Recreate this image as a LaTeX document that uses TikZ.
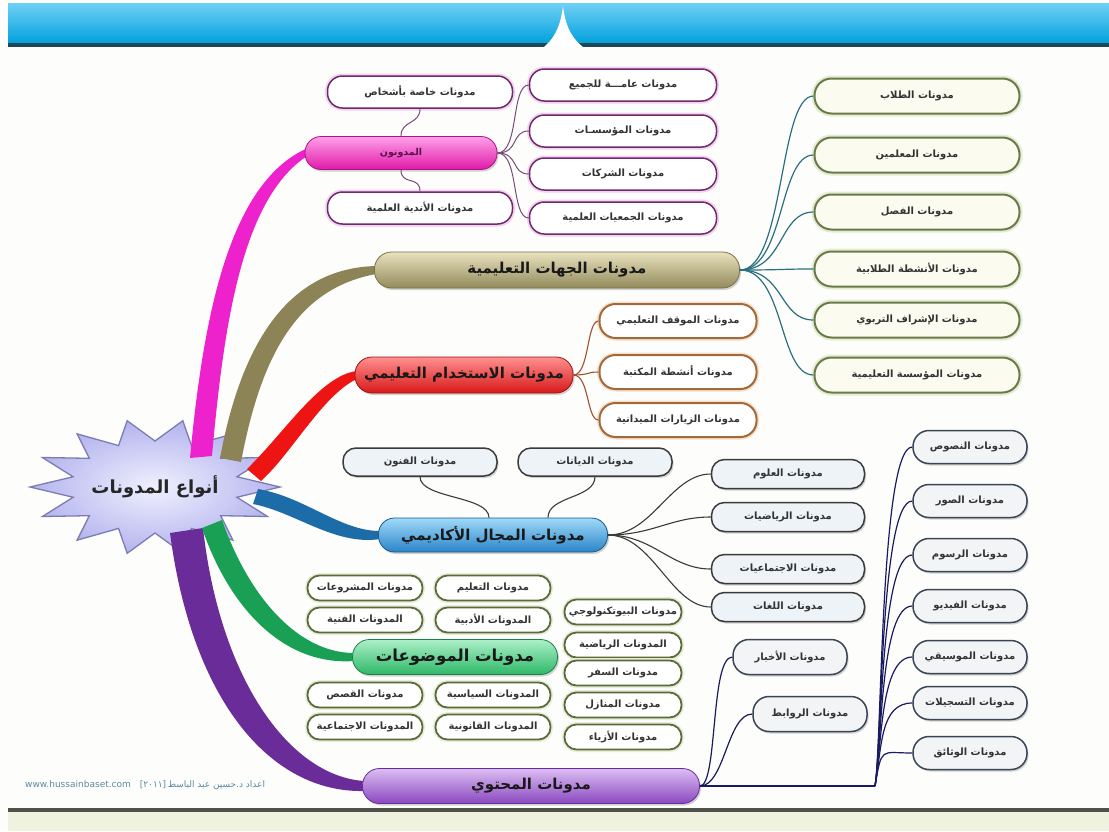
\documentclass[tikz,border=0pt]{standalone}
\usepackage{fontspec}
\setmainfont{DejaVu Sans}
\newfontfamily\arfont[Script=Arabic]{DejaVu Sans}
\TeXXeTstate=1
\usetikzlibrary{shadows,calc,backgrounds}
\newcommand\artx[1]{{\arfont\beginR #1\endR}}
\newcommand\kidar{\arfont\bfseries\fontsize{10}{12}\selectfont}
\newcommand\bigar{\arfont\bfseries\fontsize{15}{18}\selectfont}
\newcommand\midar{\arfont\bfseries\fontsize{9.5}{11}\selectfont}
\newcommand\rootar{\arfont\bfseries\fontsize{18}{21}\selectfont}
\definecolor{barA}{HTML}{6FD0F5}
\definecolor{barB}{HTML}{00A0DC}
\definecolor{barLine}{HTML}{1E4756}
\definecolor{botLine}{HTML}{4E5248}
\definecolor{botStrip}{HTML}{EEF2DE}
\definecolor{pageBg}{HTML}{FDFDFB}
\definecolor{starIn}{HTML}{F0F0FF}
\definecolor{starOut}{HTML}{B4B4EE}
\definecolor{starLine}{HTML}{7C7CB4}
\definecolor{ribM}{HTML}{EE22CC}
\definecolor{ribO}{HTML}{8C8456}
\definecolor{ribR}{HTML}{EE1414}
\definecolor{ribB}{HTML}{1C6CA8}
\definecolor{ribG}{HTML}{1AA055}
\definecolor{ribP}{HTML}{6A2C98}
\definecolor{mTop}{HTML}{FFA0E8}
\definecolor{mBot}{HTML}{E01AA8}
\definecolor{mDr}{HTML}{B0108A}
\definecolor{mTxt}{HTML}{5A1050}
\definecolor{oTop}{HTML}{E8E2BE}
\definecolor{oBot}{HTML}{938A5C}
\definecolor{oDr}{HTML}{7A7048}
\definecolor{rTop}{HTML}{FF9090}
\definecolor{rBot}{HTML}{D81818}
\definecolor{rDr}{HTML}{A01010}
\definecolor{bTop}{HTML}{A0DAF8}
\definecolor{bBot}{HTML}{2A84C8}
\definecolor{bDr}{HTML}{1A5A90}
\definecolor{gTop}{HTML}{ACF0C8}
\definecolor{gBot}{HTML}{2EB868}
\definecolor{gDr}{HTML}{1A8048}
\definecolor{pTop}{HTML}{DCBEF2}
\definecolor{pBot}{HTML}{8A48C0}
\definecolor{pDr}{HTML}{6A2C98}
\definecolor{kMl}{HTML}{6E2A6A}
\definecolor{kMh}{HTML}{F3D2F0}
\definecolor{kOl}{HTML}{6A7A4A}
\definecolor{kOh}{HTML}{E4ECD4}
\definecolor{kOf}{HTML}{FBFBF0}
\definecolor{kRl}{HTML}{A06A3A}
\definecolor{kRh}{HTML}{F6DECA}
\definecolor{kBl}{HTML}{3A3A3A}
\definecolor{kBf}{HTML}{EEF3F7}
\definecolor{kGl}{HTML}{5A6A3A}
\definecolor{kGh}{HTML}{E6EED8}
\definecolor{kPl}{HTML}{3A4656}
\definecolor{kPf}{HTML}{F2F4F6}
\definecolor{cM}{HTML}{7A4A7A}
\definecolor{cO}{HTML}{2A7080}
\definecolor{cR}{HTML}{A05030}
\definecolor{cB}{HTML}{3A3A3A}
\definecolor{cP}{HTML}{1A1A60}
\definecolor{footCol}{HTML}{5A8AA0}
\begin{document}
\begin{tikzpicture}[x=1pt,y=-1pt,
  shd/.style={drop shadow={opacity=0.35, shadow xshift=1.5pt, shadow yshift=-2pt}},
  mainnode/.style={inner sep=0pt, line width=0.8pt, shd, text=black!90, font=\bigar},
  mainM/.style={mainnode, top color=mTop, bottom color=mBot, draw=mDr, minimum height=33pt, rounded corners=16pt, font=\midar, text=mTxt},
  mainO/.style={mainnode, top color=oTop, bottom color=oBot, draw=oDr, minimum height=36pt, rounded corners=17pt},
  mainR/.style={mainnode, top color=rTop, bottom color=rBot, draw=rDr, minimum height=36pt, rounded corners=17pt},
  mainB/.style={mainnode, top color=bTop, bottom color=bBot, draw=bDr, minimum height=34pt, rounded corners=16pt},
  mainG/.style={mainnode, top color=gTop, bottom color=gBot, draw=gDr, minimum height=35pt, rounded corners=17pt, font=\arfont\bfseries\fontsize{16.5}{19}\selectfont},
  mainP/.style={mainnode, top color=pTop, bottom color=pBot, draw=pDr, minimum height=35pt, rounded corners=17pt},
  kid/.style={inner sep=0pt, line width=1.5pt, font=\kidar, text=black!80, shd},
  kidM/.style={kid, draw=kMl, fill=white, minimum width=185pt, minimum height=32pt, rounded corners=15pt, preaction={draw=kMh, line width=5pt}},
  kidO/.style={kid, draw=kOl, fill=kOf, minimum width=205pt, minimum height=35pt, rounded corners=17pt, line width=2pt, preaction={draw=kOh, line width=6pt}},
  kidR/.style={kid, draw=kRl, fill=white, minimum width=157pt, minimum height=34pt, rounded corners=16pt, line width=2pt, preaction={draw=kRh, line width=5pt}},
  kidB/.style={kid, draw=kBl, fill=kBf, minimum width=154pt, minimum height=28pt, rounded corners=13pt},
  kidG/.style={kid, draw=kGl, fill=white, minimum width=115pt, minimum height=25pt, rounded corners=12pt, line width=1.8pt, preaction={draw=kGh, line width=5pt}},
  kidP/.style={kid, draw=kPl, fill=kPf, minimum width=114pt, minimum height=33pt, rounded corners=16pt},
  conM/.style={draw=cM, line width=1pt},
  conO/.style={draw=cO, line width=1.2pt},
  conR/.style={draw=cR, line width=1.1pt},
  conB/.style={draw=cB, line width=1.1pt},
  conP/.style={draw=cP, line width=1.2pt},
]
\useasboundingbox (0,0) rectangle (1109,831);
\begin{scope}[on background layer]
  \fill[pageBg] (0,0) rectangle (1109,831);
  \shade[top color=barA, bottom color=barB] (8,3) rectangle (1109,44);
  \fill[barLine] (8,43) rectangle (1109,47);
  \fill[white] (544,47) .. controls (557,36) and (561,22) .. (563,6) .. controls (565,22) and (569,36) .. (583,47) -- cycle;
  \fill[botLine] (8,808) rectangle (1109,812);
  \fill[botStrip] (8,812) rectangle (1109,831);
\end{scope}

% ---------- root ----------
\node[font=\rootar, text=black!85] (root) at (155,487) {\artx{أنواع المدونات}};

% ---------- المدونون ----------
\node[mainM, minimum width=192pt] (mud) at (401,153) {\artx{المدونون}};
\node[kidM] (khassa) at (420,92) {\artx{مدونات خاصة بأشخاص}};
\node[kidM] (andiya) at (420,208) {\artx{مدونات الأندية العلمية}};
\node[kidM, minimum width=187pt] (amma) at (623,85) {\artx{مدونات عامـــة للجميع}};
\node[kidM, minimum width=187pt] (muass) at (623,131) {\artx{مدونات المؤسسـات}};
\node[kidM, minimum width=187pt] (shar) at (623,174) {\artx{مدونات الشركات}};
\node[kidM, minimum width=187pt] (jam) at (623,218) {\artx{مدونات الجمعيات العلمية}};
\draw[conM] (mud.north) .. controls +(0,-16) and +(0,16) .. (khassa.south);
\draw[conM] (mud.south) .. controls +(0,16) and +(0,-16) .. (andiya.north);
\foreach \n in {amma,muass,shar,jam}
  \draw[conM] (mud.east) .. controls +(22,0) and +(-18,0) .. (\n.west);

% ---------- الجهات التعليمية ----------
\node[mainO, minimum width=365pt] (jih) at (557,270) {\artx{مدونات الجهات التعليمية}};
\node[kidO] (tullab) at (917,96) {\artx{مدونات الطلاب}};
\node[kidO] (muallim) at (917,155) {\artx{مدونات المعلمين}};
\node[kidO] (fasl) at (917,212) {\artx{مدونات الفصل}};
\node[kidO] (anshT) at (917,269) {\artx{مدونات الأنشطة الطلابية}};
\node[kidO] (ishraf) at (917,320) {\artx{مدونات الإشراف التربوي}};
\node[kidO] (muassT) at (917,375) {\artx{مدونات المؤسسة التعليمية}};
\foreach \n in {tullab,muallim,fasl,anshT,ishraf,muassT}
  \draw[conO] (jih.east) .. controls +(45,0) and +(-35,0) .. (\n.west);

% ---------- الاستخدام التعليمي ----------
\node[mainR, minimum width=218pt] (ist) at (464,375) {\artx{مدونات الاستخدام التعليمي}};
\node[kidR] (mawqif) at (678,321) {\artx{مدونات الموقف التعليمي}};
\node[kidR] (maktaba) at (678,372) {\artx{مدونات أنشطة المكتبة}};
\node[kidR] (ziyarat) at (678,420) {\artx{مدونات الزيارات الميدانية}};
\foreach \n in {mawqif,maktaba,ziyarat}
  \draw[conR] (ist.east) .. controls +(16,0) and +(-12,0) .. (\n.west);

% ---------- المجال الأكاديمي ----------
\node[mainB, minimum width=229pt] (aka) at (493,535) {\artx{مدونات المجال الأكاديمي}};
\node[kidB] (funun) at (420,462) {\artx{مدونات الفنون}};
\node[kidB] (diyanat) at (595,462) {\artx{مدونات الديانات}};
\node[kidB, minimum width=153pt, minimum height=29pt] (ulum) at (788,474) {\artx{مدونات العلوم}};
\node[kidB, minimum width=153pt, minimum height=29pt] (riyad) at (788,517) {\artx{مدونات الرياضيات}};
\node[kidB, minimum width=153pt, minimum height=29pt] (ijtim) at (788,569) {\artx{مدونات الاجتماعيات}};
\node[kidB, minimum width=153pt, minimum height=29pt] (lughat) at (788,607) {\artx{مدونات اللغات}};
\draw[conB] ($(aka.north)+(-4,0)$) .. controls +(0,-22) and +(0,22) .. (funun.south);
\draw[conB] ($(aka.north)+(55,0)$) .. controls +(0,-22) and +(0,22) .. (diyanat.south);
\foreach \n in {ulum,riyad,ijtim,lughat}
  \draw[conB] (aka.east) .. controls +(45,0) and +(-40,0) .. (\n.west);

% ---------- الموضوعات ----------
\node[mainG, minimum width=205pt] (maw) at (455,657) {\artx{مدونات الموضوعات}};
\node[kidG] (mashar) at (365,588) {\artx{مدونات المشروعات}};
\node[kidG] (talim) at (493,588) {\artx{مدونات التعليم}};
\node[kidG] (fanniya) at (365,620) {\artx{المدونات الفنية}};
\node[kidG] (adabiya) at (493,620) {\artx{المدونات الأدبية}};
\node[kidG] (qisas) at (365,695) {\artx{مدونات القصص}};
\node[kidG] (siyasa) at (493,695) {\artx{المدونات السياسية}};
\node[kidG] (ijtimG) at (365,727) {\artx{المدونات الاجتماعية}};
\node[kidG] (qanun) at (493,727) {\artx{المدونات القانونية}};
\node[kidG, minimum width=117pt] (bio) at (623,612) {\artx{مدونات البيوتكنولوجي}};
\node[kidG, minimum width=117pt] (riyadG) at (623,645) {\artx{المدونات الرياضية}};
\node[kidG, minimum width=117pt] (safar) at (623,673) {\artx{مدونات السفر}};
\node[kidG, minimum width=117pt] (manazil) at (623,705) {\artx{مدونات المنازل}};
\node[kidG, minimum width=117pt] (azya) at (623,737) {\artx{مدونات الأزياء}};

% ---------- المحتوى ----------
\node[mainP, minimum width=337pt] (muh) at (531,786) {\artx{مدونات المحتوي}};
\node[kidP, minimum height=35pt] (akhbar) at (790,657) {\artx{مدونات الأخبار}};
\node[kidP, minimum height=35pt] (rawabit) at (810,714) {\artx{مدونات الروابط}};
\node[kidP] (nusus) at (970,447) {\artx{مدونات النصوص}};
\node[kidP] (suwar) at (970,501) {\artx{مدونات الصور}};
\node[kidP] (rusum) at (970,555) {\artx{مدونات الرسوم}};
\node[kidP] (video) at (970,606) {\artx{مدونات الفيديو}};
\node[kidP] (musiqa) at (970,657) {\artx{مدونات الموسيقي}};
\node[kidP] (tasjil) at (970,703) {\artx{مدونات التسجيلات}};
\node[kidP] (wathaiq) at (970,753) {\artx{مدونات الوثائق}};
\coordinate (trunk) at (875,786);
\draw[conP] (muh.east) -- (trunk);
\foreach \n in {nusus,suwar,rusum,video,musiqa,tasjil,wathaiq}
  \draw[conP] (trunk) .. controls +(7,-40) and +(-32,0) .. (\n.west);
\draw[conP] (muh.east) .. controls +(18,0) and +(-22,0) .. (akhbar.west);
\draw[conP] (muh.east) .. controls +(25,0) and +(-25,0) .. (rawabit.west);

% ---------- footer ----------
\node[anchor=west, font=\fontsize{9}{11}\selectfont, text=footCol, inner sep=0pt] (credit) at (25,785)
  {www.hussainbaset.com\quad{\arfont [٢٠١١]}\,\artx{اعداد د.حسين عبد الباسط}};

% ---------- star and ribbons ----------
\begin{scope}[on background layer]
  \draw[shift={(root.center)}, inner color=starIn, outer color=starOut, draw=starLine, line width=1.3pt, line join=miter]
    (125,0) \foreach \i in {1,...,27}{ -- ({(mod(\i,2)==0 ? 125 : 84)*cos(\i*360/28)}, {(mod(\i,2)==0 ? 68 : 46)*sin(\i*360/28)}) } -- cycle;
  \fill[ribM] ($(root)+(35,-29)$) .. controls (203,320) and (228,185) .. ($(mud.west)+(1,-4)$)
     -- ($(mud.west)+(1,4)$) .. controls (243,200) and (224,320) .. ($(root)+(57,-31)$) -- cycle;
  \fill[ribO] ($(root)+(65,-29)$) .. controls (242,340) and (290,268) .. ($(jih.west)+(2,-4)$)
     -- ($(jih.west)+(2,4)$) .. controls (300,288) and (262,350) .. ($(root)+(86,-25)$) -- cycle;
  \fill[ribR] ($(root)+(92,-18)$) .. controls (285,432) and (320,376) .. ($(ist.west)+(2,-4)$)
     -- ($(ist.west)+(2,4)$) .. controls (322,396) and (292,453) .. ($(root)+(106,-6)$) -- cycle;
  \fill[ribB] ($(root)+(103,2)$) .. controls (305,497) and (340,531) .. ($(aka.west)+(2,-4)$)
     -- ($(aka.west)+(2,4)$) .. controls (335,546) and (295,512) .. ($(root)+(98,17)$) -- cycle;
  \fill[ribP] ($(root)+(48,41)$) .. controls (220,680) and (290,776) .. ($(muh.west)+(2,-5)$)
     -- ($(muh.west)+(2,5)$) .. controls (270,793) and (192,700) .. ($(root)+(15,46)$) -- cycle;
  \fill[ribG] ($(root)+(67,33)$) .. controls (250,600) and (300,653) .. ($(maw.west)+(2,-4)$)
     -- ($(maw.west)+(2,4)$) .. controls (285,666) and (230,610) .. ($(root)+(47,41)$) -- cycle;
\end{scope}
\end{tikzpicture}
\end{document}
